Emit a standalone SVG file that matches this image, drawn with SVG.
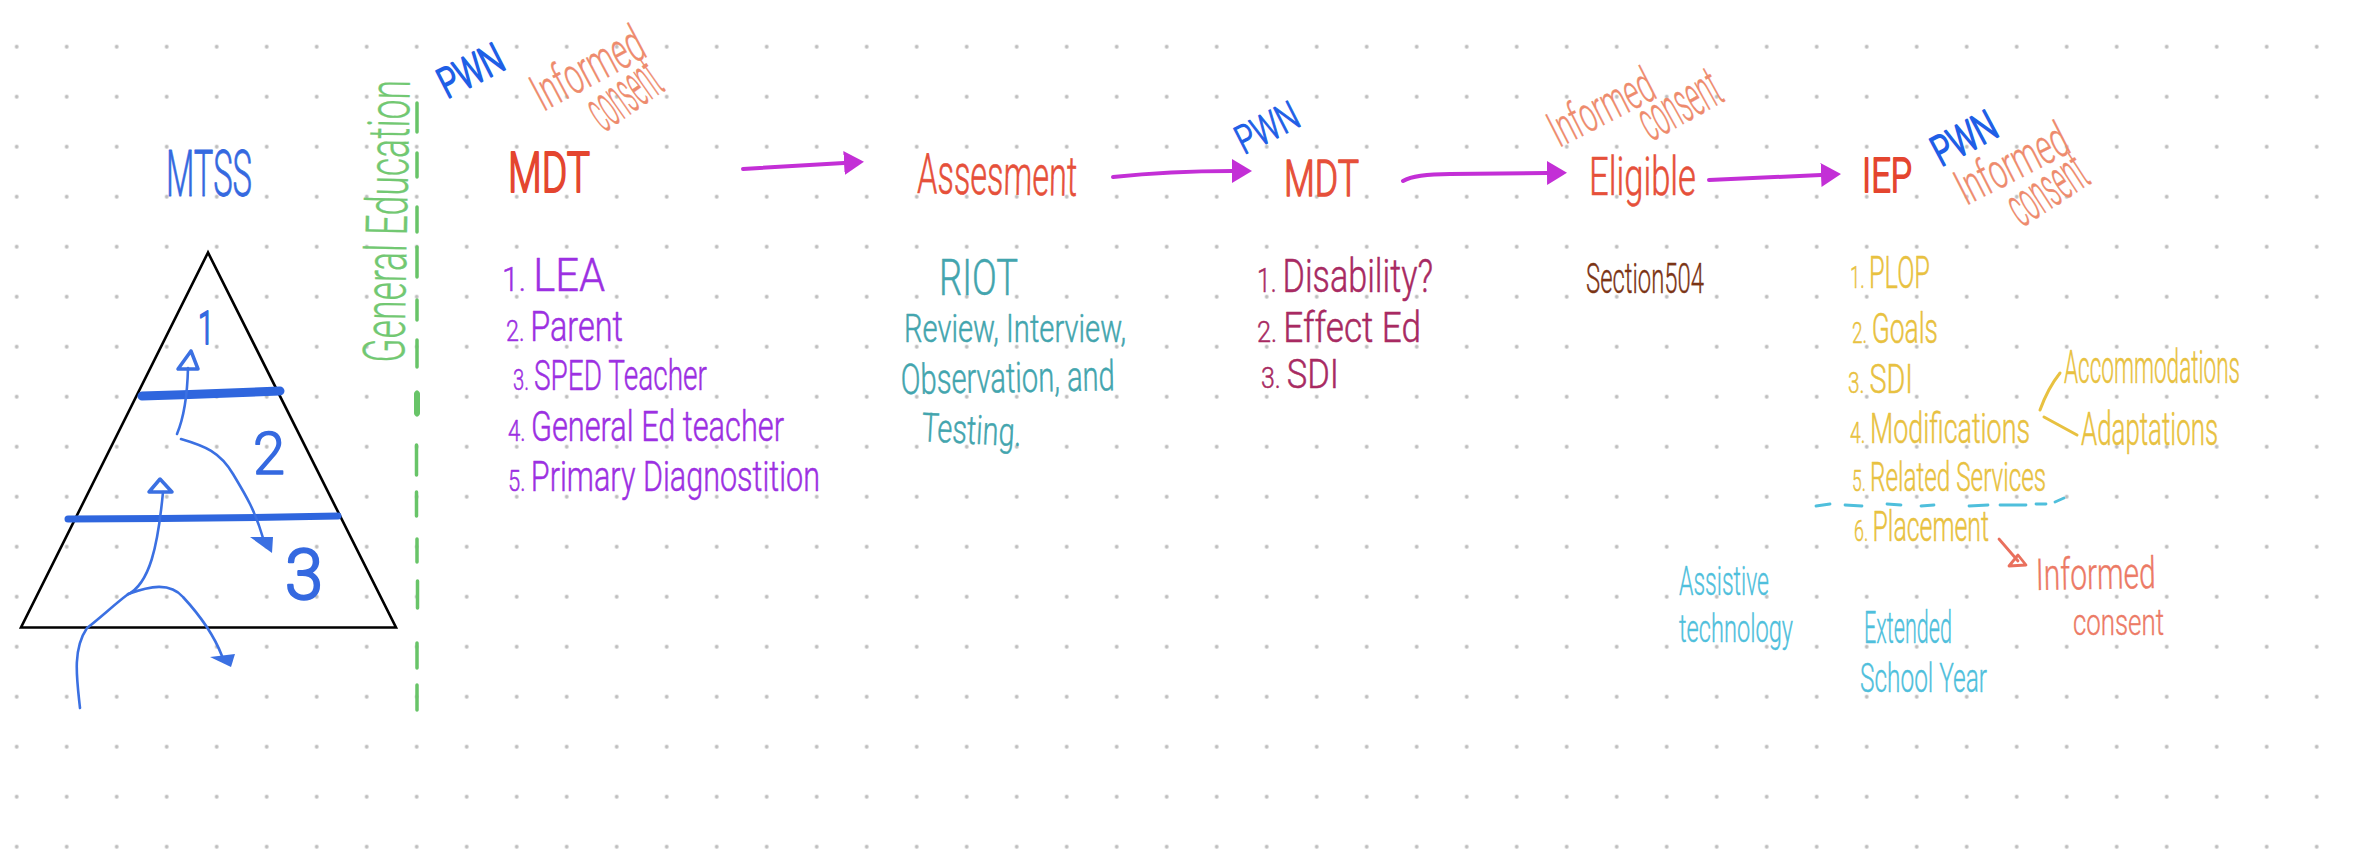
<svg xmlns="http://www.w3.org/2000/svg" width="2360" height="863" viewBox="0 0 2360 863">
<style>
text{font-family:"Roboto","Liberation Sans",sans-serif;font-weight:300;stroke-linejoin:round}
.sm{font-size:.72em}
.blue{fill:#3569e0;stroke:#3569e0;stroke-width:.8}
.pwn{fill:#1f5fe6;stroke:#1f5fe6;stroke-width:2}
.coral{fill:#ee8b6d;stroke:#ee8b6d;stroke-width:.4}
.coral2{fill:#ec7a65;stroke:#ec7a65;stroke-width:.4}
.green{fill:#72c872;stroke:#72c872;stroke-width:.3}
.red{fill:#e6503a;stroke:#e6503a;stroke-width:.6}
.redb{fill:#e4452f;stroke:#e4452f;stroke-width:2}
.purple{fill:#9c30e2;stroke:#9c30e2;stroke-width:.5}
.teal{fill:#43a5ae;stroke:#43a5ae;stroke-width:.5}
.wine{fill:#a82a62;stroke:#a82a62;stroke-width:.5}
.brown{fill:#7b3415;stroke:#7b3415;stroke-width:.4}
.yellow{fill:#e8c140;stroke:#e8c140;stroke-width:.5}
.cyan{fill:#4fbfdc;stroke:#4fbfdc;stroke-width:.4}
.line{fill:none;stroke-linecap:round;stroke-linejoin:round}
.bl{stroke:#3b70e2;stroke-width:2.6}
.pu{stroke:#c32fd6;stroke-width:4;marker-end:url(#head)}
</style>
<defs>
<pattern id="dots" width="50" height="50" patternUnits="userSpaceOnUse" x="-8.3" y="21.7">
<circle cx="25" cy="25" r="1.9" fill="#bdbdbd"/>
</pattern>
<marker id="head" markerUnits="userSpaceOnUse" markerWidth="22" markerHeight="26" refX="0" refY="12" orient="auto">
<path d="M0 0L20 12L0 24Z" fill="#c32fd6"/>
</marker>
</defs>
<rect width="2360" height="863" fill="#fff"/>
<rect width="2340" height="860" fill="url(#dots)"/>

<g id="node-mtss-title"><text class="blue" x="166" y="196" font-size="64" textLength="86" lengthAdjust="spacingAndGlyphs">MTSS</text></g>

<g id="node-pyramid">
<path d="M208 252.5L21 627.5H396Z" fill="none" stroke="#000" stroke-width="2.6" stroke-linejoin="miter"/>
<path d="M142 396Q210 394 280 391" class="line" stroke="#2f66de" stroke-width="9"/>
<path d="M68 519Q200 519 338 516" class="line" stroke="#2f66de" stroke-width="7"/>
<text class="blue" x="198" y="344" font-size="46" textLength="16" lengthAdjust="spacingAndGlyphs" style="stroke-width:2">1</text>
<text class="blue" x="253" y="474" font-size="60" textLength="32" lengthAdjust="spacingAndGlyphs" style="stroke-width:1.6">2</text>
<text class="blue" x="285" y="599" font-size="70" textLength="38" lengthAdjust="spacingAndGlyphs" style="stroke-width:2.5">3</text>
</g>

<g id="node-general-education">
<text class="green" transform="translate(404 363) rotate(-88.8) scale(.65 1)" font-size="58" textLength="435" lengthAdjust="spacingAndGlyphs">General Education</text>
</g>

<g id="node-pwn-1"><text class="pwn" transform="translate(447 99) rotate(-27)" font-size="42" textLength="68" lengthAdjust="spacingAndGlyphs">PWN</text></g>
<g id="node-consent-1">
<text class="coral" transform="translate(543 112) rotate(-28)" font-size="52" textLength="120" lengthAdjust="spacingAndGlyphs">Informed</text>
<text class="coral" transform="translate(604 133) rotate(-35)" font-size="62" textLength="76" lengthAdjust="spacingAndGlyphs">consent</text>
</g>
<g id="node-mdt-1"><text class="redb" x="508" y="192" font-size="56" textLength="82" lengthAdjust="spacingAndGlyphs">MDT</text></g>
<g id="node-mdt-1-list">
<text class="purple" x="502" y="291" font-size="46" textLength="103" lengthAdjust="spacingAndGlyphs"><tspan class="sm">1. </tspan>LEA</text>
<text class="purple" x="506" y="341" font-size="42" textLength="117" lengthAdjust="spacingAndGlyphs"><tspan class="sm">2. </tspan>Parent</text>
<text class="purple" x="513" y="390" font-size="42" textLength="194" lengthAdjust="spacingAndGlyphs"><tspan class="sm">3. </tspan>SPED Teacher</text>
<text class="purple" x="508" y="441" font-size="42" textLength="276" lengthAdjust="spacingAndGlyphs"><tspan class="sm">4. </tspan>General Ed teacher</text>
<text class="purple" x="508" y="491" font-size="42" textLength="312" lengthAdjust="spacingAndGlyphs"><tspan class="sm">5. </tspan>Primary Diagnostition</text>
</g>

<g id="node-assesment"><text class="red" x="917" y="193" font-size="56" textLength="160" lengthAdjust="spacingAndGlyphs" transform="rotate(1 917 193)">Assesment</text></g>
<g id="node-riot">
<text class="teal" x="939" y="295" font-size="50" textLength="79" lengthAdjust="spacingAndGlyphs">RIOT</text>
<text class="teal" x="904" y="342" font-size="38" textLength="222" lengthAdjust="spacingAndGlyphs">Review, Interview,</text>
<text class="teal" x="901" y="394" font-size="42" textLength="214" lengthAdjust="spacingAndGlyphs" transform="rotate(-1 901 394)">Observation, and</text>
<text class="teal" x="921" y="441" font-size="40" textLength="100" lengthAdjust="spacingAndGlyphs" transform="rotate(3 921 441)">Testing.</text>
</g>

<g id="node-pwn-2"><text class="pwn" style="stroke-width:1.2" transform="translate(1244 155) rotate(-27)" font-size="40" textLength="66" lengthAdjust="spacingAndGlyphs">PWN</text></g>
<g id="node-mdt-2"><text class="red" style="stroke-width:1.5" x="1284" y="196" font-size="50" textLength="75" lengthAdjust="spacingAndGlyphs">MDT</text></g>
<g id="node-mdt-2-list">
<text class="wine" x="1257" y="292" font-size="46" textLength="176" lengthAdjust="spacingAndGlyphs"><tspan class="sm">1. </tspan>Disability?</text>
<text class="wine" x="1257" y="342" font-size="42" textLength="164" lengthAdjust="spacingAndGlyphs"><tspan class="sm">2. </tspan>Effect Ed</text>
<text class="wine" x="1261" y="388" font-size="40" textLength="78" lengthAdjust="spacingAndGlyphs"><tspan class="sm">3. </tspan>SDI</text>
</g>

<g id="node-consent-2">
<text class="coral" transform="translate(1559 148) rotate(-27)" font-size="50" textLength="112" lengthAdjust="spacingAndGlyphs">Informed</text>
<text class="coral" transform="translate(1651 142) rotate(-29)" font-size="58" textLength="86" lengthAdjust="spacingAndGlyphs">consent</text>
</g>
<g id="node-eligible"><text class="red" x="1589" y="195" font-size="54" textLength="107" lengthAdjust="spacingAndGlyphs">Eligible</text></g>
<g id="node-section-504"><text class="brown" x="1586" y="293" font-size="42" textLength="118" lengthAdjust="spacingAndGlyphs">Section504</text></g>

<g id="node-iep"><text class="redb" x="1862" y="192" font-size="48" textLength="50" lengthAdjust="spacingAndGlyphs">IEP</text></g>
<g id="node-pwn-3"><text class="pwn" transform="translate(1941 167) rotate(-28)" font-size="42" textLength="68" lengthAdjust="spacingAndGlyphs">PWN</text></g>
<g id="node-consent-3">
<text class="coral" transform="translate(1966 206) rotate(-27)" font-size="50" textLength="120" lengthAdjust="spacingAndGlyphs">Informed</text>
<text class="coral" transform="translate(2022 228) rotate(-33)" font-size="58" textLength="84" lengthAdjust="spacingAndGlyphs">consent</text>
</g>
<g id="node-iep-list">
<text class="yellow" x="1850" y="288" font-size="44" textLength="80" lengthAdjust="spacingAndGlyphs"><tspan class="sm">1. </tspan>PLOP</text>
<text class="yellow" x="1852" y="343" font-size="42" textLength="86" lengthAdjust="spacingAndGlyphs"><tspan class="sm">2. </tspan>Goals</text>
<text class="yellow" x="1848" y="393" font-size="40" textLength="65" lengthAdjust="spacingAndGlyphs"><tspan class="sm">3. </tspan>SDI</text>
<text class="yellow" x="1850" y="443" font-size="42" textLength="180" lengthAdjust="spacingAndGlyphs"><tspan class="sm">4. </tspan>Modifications</text>
<text class="yellow" x="1852" y="491" font-size="40" textLength="194" lengthAdjust="spacingAndGlyphs"><tspan class="sm">5. </tspan>Related Services</text>
<text class="yellow" x="1854" y="541" font-size="42" textLength="135" lengthAdjust="spacingAndGlyphs"><tspan class="sm">6. </tspan>Placement</text>
</g>
<g id="node-accommodations"><text class="yellow" x="2064" y="383" font-size="46" textLength="176" lengthAdjust="spacingAndGlyphs">Accommodations</text></g>
<g id="node-adaptations"><text class="yellow" x="2081" y="445" font-size="46" textLength="137" lengthAdjust="spacingAndGlyphs">Adaptations</text></g>
<g id="node-consent-4">
<text class="coral2" x="2036" y="590" font-size="44" textLength="120" lengthAdjust="spacingAndGlyphs" transform="rotate(-1 2036 590)">Informed</text>
<text class="coral2" x="2073" y="635" font-size="36" textLength="91" lengthAdjust="spacingAndGlyphs">consent</text>
</g>
<g id="node-assistive-technology">
<text class="cyan" x="1679" y="595" font-size="40" textLength="90" lengthAdjust="spacingAndGlyphs">Assistive</text>
<text class="cyan" x="1679" y="642" font-size="38" textLength="114" lengthAdjust="spacingAndGlyphs">technology</text>
</g>
<g id="node-extended-school-year">
<text class="cyan" x="1864" y="643" font-size="44" textLength="88" lengthAdjust="spacingAndGlyphs">Extended</text>
<text class="cyan" x="1860" y="692" font-size="40" textLength="127" lengthAdjust="spacingAndGlyphs">School Year</text>
</g>

<g id="connectors">
<path class="line" stroke="#68c468" stroke-width="3.5" d="M417 103V132M417 153V177M417 207V232M417 247V277M417 300V320M417 340V367M417 392V415M416.500 445V475M416.500 492V516M417 539V562M417.500 581V608M417 643V668M417 685V710"/>
<path class="line" stroke="#68c468" stroke-width="6" d="M417 394V413"/>
<path class="line bl" d="M177 434Q187 410 188 368"/>
<path class="line bl" d="M191 351L178 369L198 369Z" style="stroke-width:3.5"/>
<path class="line bl" d="M181 439C205 446 220 452 233 474C245 494 255 510 263 538"/>
<path d="M250 537L273 537L272 553Z" fill="#3b70e2"/>
<path class="line bl" d="M80 708C77 680 72 650 87 628C100 618 115 604 127 595C150 584 158 545 163 492"/>
<path class="line bl" d="M160 479L149 492L172 492Z" style="stroke-width:3.5"/>
<path class="line bl" d="M128 594C150 586 170 582 183 597C195 610 212 630 222 656"/>
<path d="M210 657L235 654L231 667Z" fill="#3b70e2"/>
<path class="line pu" d="M743 169L844 163"/>
<path class="line pu" d="M1113 177Q1170 171 1232 171"/>
<path class="line pu" d="M1403 181Q1415 174 1450 174L1547 173"/>
<path class="line pu" d="M1709 180L1821 175"/>
<path class="line" stroke="#e8c140" stroke-width="3" d="M2040 410Q2048 388 2060 373M2044 417L2077 435"/>
<path class="line" stroke="#4fbfdc" stroke-width="2.8" d="M1816 506L1830 504M1845 505L1862 506M1887 504L1901 505M1921 506L1934 505M1969 506L1988 505M2000 505L2026 505M2036 504L2046 504M2055 502L2064 498"/>
<path class="line" stroke="#e9705d" stroke-width="2.8" d="M1999 539L2018 561M2018 555L2026 565L2009 566Z"/>
</g>
</svg>
